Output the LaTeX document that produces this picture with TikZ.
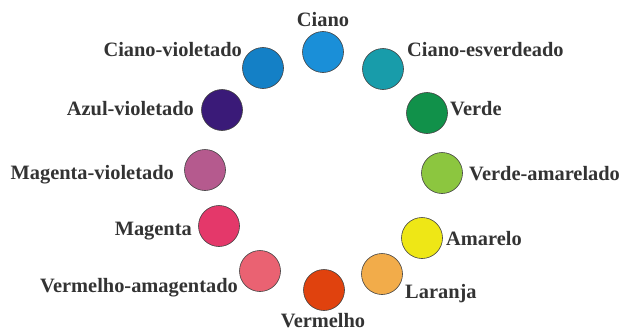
\documentclass[tikz,border=0pt]{standalone}
\usepackage{fontspec}
\setmainfont{Liberation Serif}
\definecolor{cCiano}{HTML}{1A8FD8}
\definecolor{cCianoV}{HTML}{1480C6}
\definecolor{cCianoE}{HTML}{189CAA}
\definecolor{cVerde}{HTML}{11914A}
\definecolor{cVerdeA}{HTML}{8CC63F}
\definecolor{cAmarelo}{HTML}{EEE716}
\definecolor{cLaranja}{HTML}{F2AC4A}
\definecolor{cVermelho}{HTML}{E0420E}
\definecolor{cVermA}{HTML}{EA6272}
\definecolor{cMagenta}{HTML}{E4386A}
\definecolor{cMagV}{HTML}{B55A8E}
\definecolor{cAzulV}{HTML}{3A1A78}
\definecolor{txt}{HTML}{333333}
\begin{document}
\begin{tikzpicture}[x=1pt,y=-1pt,
  dot/.style={circle,draw=black!75,line width=0.6pt,minimum size=41pt,inner sep=0pt},
  lab/.style={text=txt,font=\fontsize{20.4}{24}\selectfont\bfseries,inner sep=0pt}]
\useasboundingbox (0,0) rectangle (621,332);
\node[dot,fill=cCiano] (c1) at (323,52) {};
\node[dot,fill=cCianoE] (c2) at (383,69) {};
\node[dot,fill=cVerde] (c3) at (427,113) {};
\node[dot,fill=cVerdeA] (c4) at (442,173) {};
\node[dot,fill=cAmarelo] (c5) at (422,238) {};
\node[dot,fill=cLaranja] (c6) at (382,274) {};
\node[dot,fill=cVermelho] (c7) at (324,290) {};
\node[dot,fill=cVermA] (c8) at (260,271) {};
\node[dot,fill=cMagenta] (c9) at (219,226) {};
\node[dot,fill=cMagV] (c10) at (205,170) {};
\node[dot,fill=cAzulV] (c11) at (222,110) {};
\node[dot,fill=cCianoV] (c12) at (263,68) {};
\node[lab,anchor=base] (l1) at (323,26) {Ciano};
\node[lab,anchor=base west] (l2) at (407,56) {Ciano-esverdeado};
\node[lab,anchor=base west] (l3) at (450,115) {Verde};
\node[lab,anchor=base west] (l4) at (469,180) {Verde-amarelado};
\node[lab,anchor=base west] (l5) at (446,245) {Amarelo};
\node[lab,anchor=base west] (l6) at (405,298) {Laranja};
\node[lab,anchor=base] (l7) at (323,327) {Vermelho};
\node[lab,anchor=base east] (l8) at (238,292) {Vermelho-amagentado};
\node[lab,anchor=base east] (l9) at (192,235) {Magenta};
\node[lab,anchor=base east] (l10) at (174,179) {Magenta-violetado};
\node[lab,anchor=base east] (l11) at (194,115) {Azul-violetado};
\node[lab,anchor=base east] (l12) at (242,56) {Ciano-violetado};
\end{tikzpicture}
\end{document}
